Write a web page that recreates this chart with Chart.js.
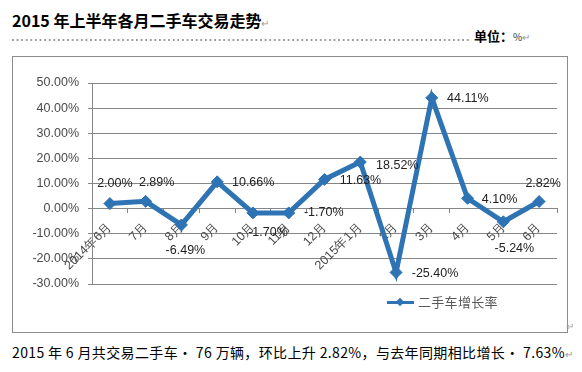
<!DOCTYPE html>
<html>
<head>
<meta charset="utf-8">
<script src="https://cdn.jsdelivr.net/npm/chart.js@4/dist/chart.umd.min.js"></script>
<style>
  body { margin: 0; background: #fff; width: 582px; height: 372px; overflow: hidden; position: relative; font-family: "Noto Sans CJK SC", sans-serif; }
  .title { position: absolute; left: 12px; top: 7px; font-size: 16px; font-weight: bold; color: #000; line-height: 26px; }
  .mark { color: #999; font-weight: normal; font-size: 10px; }
  .dots { position: absolute; left: 12px; top: 39px; width: 459px; height: 2px;
    background-image: linear-gradient(to right, #9a9a9a 0, #9a9a9a 1.5px, transparent 1.5px);
    background-size: 4.6px 2px; }
  .unit { position: absolute; left: 474px; top: 26px; font-size: 13px; font-weight: bold; line-height: 20px; }
  .unit small { font-size: 10px; font-weight: normal; color: #333; }
  .box { position: absolute; left: 12px; top: 56px; width: 554px; height: 275px; border: 1px solid #8c8c8c; }
  .box canvas { position: absolute; left: 0; top: 0; }
  .legend { position: absolute; left: 374px; top: 236px; height: 18px; font-size: 13px; color: #595959; line-height: 18px; }
  .legend .ln { position: absolute; left: 0; top: 8px; width: 27px; height: 3px; background: #2e73b4; }
  .legend .dm { position: absolute; left: 10px; top: 6px; width: 6px; height: 6px; background: #2e73b4; transform: rotate(45deg); }
  .legend .tx { position: absolute; left: 31px; top: 0; white-space: nowrap; letter-spacing: 0.3px; }
  .note { position: absolute; left: 12px; top: 341px; font-size: 14px; color: #000; white-space: nowrap; line-height: 22px; letter-spacing: 0.36px; }
  .corner { position: absolute; left: 566px; top: 318px; font-size: 10px; color: #999; }
</style>
</head>
<body>
<div class="title">2015 年上半年各月二手车交易走势<span class="mark">↵</span></div>
<div class="dots"></div>
<div class="unit">单位：<small>%</small><span class="mark">↵</span></div>
<div class="box">
  <canvas id="trendChart" width="554" height="275"></canvas>
  <div class="legend"><span class="ln"></span><span class="dm"></span><span class="tx">二手车增长率</span></div>
</div>
<div class="corner">↵</div>
<div class="note">2015 年 6 月共交易二手车· 76 万辆，环比上升 2.82%，与去年同期相比增长· 7.63%<span class="mark">↵</span></div>

<script>
const months = ["2014年6月", "7月", "8月", "9月", "10月", "11月", "12月", "2015年1月", "2月", "3月", "4月", "5月", "6月"];
const growthRate = [2.00, 2.89, -6.49, 10.66, -1.70, -1.70, 11.63, 18.52, -25.40, 44.11, 4.10, -5.24, 2.82];
const yTicks = [-30, -20, -10, 0, 10, 20, 30, 40, 50];
const seriesName = "二手车增长率";

// where each value label sits relative to its point (px)
const labelOffsets = [[5, -20], [11, -19], [4, 26], [36, 1], [15, 20], [35, 0], [36, 1], [37, 3], [39, 1], [36, 1], [32, 1], [11, 27], [4, -18]];

const lineBlue = "#2e73b4";

const valueLabels = {
  id: "valueLabels",
  afterDatasetsDraw(chart) {
    const ctx = chart.ctx;
    const meta = chart.getDatasetMeta(0);
    ctx.save();
    ctx.font = "12.5px 'Liberation Sans', Arial, sans-serif";
    ctx.fillStyle = "#222";
    ctx.textAlign = "center";
    ctx.textBaseline = "middle";
    meta.data.forEach((pt, i) => {
      const off = labelOffsets[i];
      ctx.fillText(growthRate[i].toFixed(2) + "%", pt.x + off[0], pt.y + off[1]);
    });
    ctx.restore();
  },
};

document.addEventListener("DOMContentLoaded", function () {
  const ctx = document.getElementById("trendChart").getContext("2d");
  new Chart(ctx, {
    type: "line",
    data: {
      labels: months,
      datasets: [
        {
          label: seriesName,
          data: growthRate,
          borderColor: lineBlue,
          backgroundColor: lineBlue,
          borderWidth: 5,
          pointStyle: "rectRot",
          pointRadius: 6,
          pointBorderWidth: 1,
          fill: false,
          tension: 0,
        },
      ],
    },
    options: {
      responsive: false,
      animation: false,
      layout: { padding: { left: 0, top: 26, right: 10, bottom: 48 } },
      scales: {
        x: {
          position: { y: 0 },
          offset: true,
          grid: { display: true, drawOnChartArea: false, offset: true, tickLength: 4, color: "#868686" },
          border: { color: "#868686" },
          ticks: {
            minRotation: 45,
            maxRotation: 45,
            autoSkip: false,
            padding: 7,
            color: "#4a4a4a",
            font: { family: "'Liberation Sans', Arial, sans-serif", size: 12.5 },
          },
        },
        y: {
          min: -30,
          max: 50,
          afterBuildTicks(scale) {
            scale.ticks = yTicks.map((v) => ({ value: v }));
          },
          afterFit(scale) {
            scale.width = 79;
          },
          grid: { color: "#868686", tickLength: 4 },
          border: { color: "#868686" },
          ticks: {
            padding: 9,
            color: "#4a4a4a",
            font: { family: "'Liberation Sans', Arial, sans-serif", size: 12.5 },
            callback: (v) => v.toFixed(2) + "%",
          },
        },
      },
      plugins: {
        legend: { display: false },
        tooltip: { enabled: false },
      },
    },
    plugins: [valueLabels],
  });
});
</script>
</body>
</html>
